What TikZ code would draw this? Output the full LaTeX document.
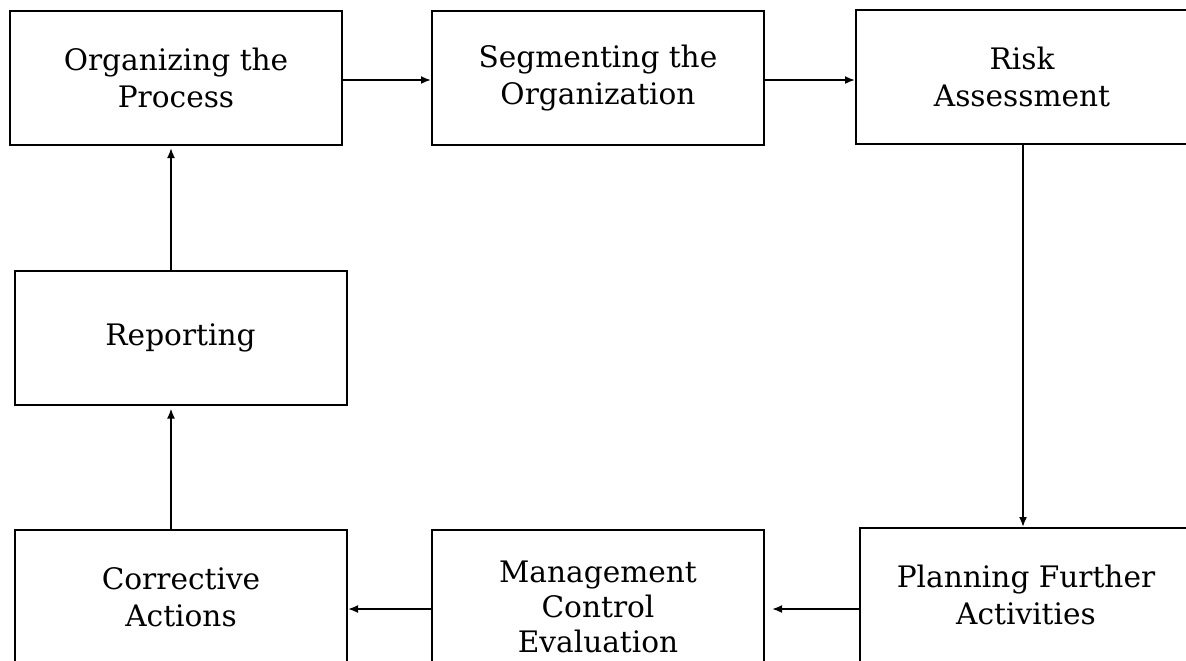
\documentclass[tikz,border=0pt]{standalone}
\usepackage{fontspec}
\setmainfont{DejaVu Serif}
\usetikzlibrary{arrows.meta}
\begin{document}
\begin{tikzpicture}[x=0.5pt,y=-0.5pt,
  txt/.style={align=center,font=\fontsize{14.8}{17.5}\selectfont},
  blk/.style={draw,line width=1pt,minimum width=166pt,minimum height=67pt,inner sep=0pt,align=center,font=\fontsize{14.8}{18.5}\selectfont},
  arr/.style={line width=0.9pt,-{Latex[length=5pt,width=4pt]}}]
\useasboundingbox (0,0) rectangle (1186,660);
\clip (0,0) rectangle (1186,660);
\fill[white] (0,0) rectangle (1186,660);
\node[blk] (org) at (176,78) {Organizing the\\Process};
\node[blk] (seg) at (598,78) {Segmenting the\\Organization};
\node[blk] (risk) at (1022,77) {Risk\\Assessment};
\node[blk] (rep) at (180.5,337.5) {Reporting};
\node[blk] (cor) at (181,597) {Corrective\\Actions};
\node[blk,label={[txt,yshift=-5pt]center:Management\\Control\\Evaluation}] (mce) at (598,597) {};
\node[blk] (plan) at (1026,595) {Planning Further\\Activities};
\coordinate (xl) at (171,0);
\coordinate (xr) at (1023,0);
\coordinate (yt) at (0,80);
\coordinate (yb) at (0,609);
\draw[arr] (org.east |- yt) -- (seg.west |- yt);
\draw[arr] (seg.east |- yt) -- (risk.west |- yt);
\draw[arr] (risk.south -| xr) -- (plan.north -| xr);
\draw[arr] (plan.west |- yb) -- ([xshift=3.5pt]mce.east |- yb);
\draw[arr] (mce.west |- yb) -- (cor.east |- yb);
\draw[arr] (cor.north -| xl) -- ([yshift=-1.5pt]rep.south -| xl);
\draw[arr] (rep.north -| xl) -- ([yshift=-1pt]org.south -| xl);
\end{tikzpicture}
\end{document}
